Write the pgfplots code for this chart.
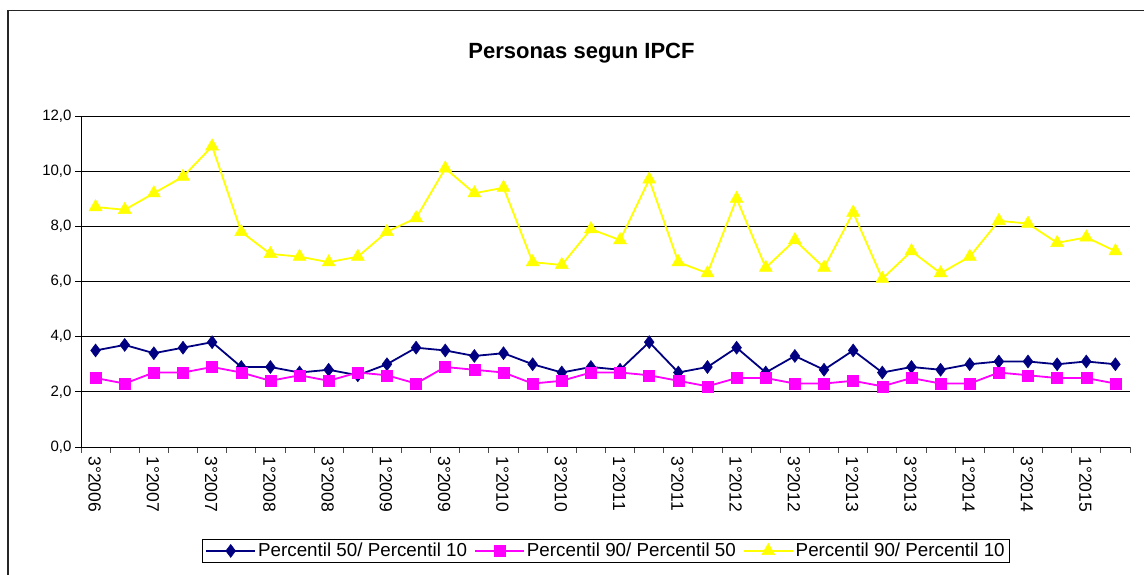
\documentclass[border=0pt]{standalone}
\usepackage{fontspec}
\setmainfont{Liberation Sans}
\usepackage{pgfplots}
\pgfplotsset{compat=1.18}
\definecolor{navyc}{RGB}{0,0,128}
\definecolor{magc}{RGB}{255,0,255}
\definecolor{yelc}{RGB}{255,255,0}
\begin{document}
\begin{tikzpicture}
\path[use as bounding box] (0pt,0pt) rectangle (1144pt,575pt);
\fill[white] (0pt,0pt) rectangle (1144pt,575pt);
\draw[line width=1.6pt,color=black!85] (8pt,0pt) -- (8pt,564.5pt) -- (1144pt,564.5pt);
\node[font=\fontsize{22}{26}\selectfont\bfseries] at (581.5pt,522pt) {Personas segun IPCF};
\begin{axis}[
  at={(81pt,128pt)}, anchor=south west,
  scale only axis, width=1049pt, height=331pt,
  xmin=-0.5, xmax=35.5, ymin=0, ymax=12,
  axis x line=bottom, axis y line=left,
  axis line style={-, line width=0.9pt},
  xtick={0,2,...,34},
  xticklabels={3°2006,1°2007,3°2007,1°2008,3°2008,1°2009,3°2009,1°2010,3°2010,1°2011,3°2011,1°2012,3°2012,1°2013,3°2013,1°2014,3°2014,1°2015},
  major x tick style={draw=none},
  minor xtick={-0.5,0.5,...,35.5},
  minor x tick style={line width=0.9pt, black!70},
  minor tick length=6pt,
  xticklabel style={rotate=-90, anchor=west, font=\fontsize{17.5}{20}\selectfont, yshift=-1pt},
  ytick={0,2,...,12},
  major y tick style={line width=0.9pt, black},
  major tick length=6pt,
  tick align=outside,
  ymajorgrids, grid style={line width=0.9pt, black},
  yticklabel style={font=\fontsize{15}{18}\selectfont},
  /pgf/number format/.cd, fixed, fixed zerofill, precision=1, use comma, assume math mode=true,
  /pgfplots/.cd,
  legend columns=3,
  legend style={at={(0.5005,-0.314)}, anchor=center, draw=black, line width=0.8pt,
    font=\fontsize{18.8}{21}\selectfont, inner ysep=2pt, inner xsep=3pt,
    /tikz/every even column/.append style={column sep=5pt}},
  legend image code/.code={\draw[mark repeat=2,mark phase=2] plot coordinates {(0pt,0pt) (24.5pt,0pt) (49pt,0pt)};},
  clip=false,
]
\addplot[navyc, line width=1.8pt, mark=diamond*, mark size=6.5pt, mark options={fill=navyc, draw=navyc, line width=0.5pt}] coordinates {
(0,3.5)(1,3.7)(2,3.4)(3,3.6)(4,3.8)(5,2.9)(6,2.9)(7,2.7)(8,2.8)(9,2.6)
(10,3.0)(11,3.6)(12,3.5)(13,3.3)(14,3.4)(15,3.0)(16,2.7)(17,2.9)(18,2.8)(19,3.8)
(20,2.7)(21,2.9)(22,3.6)(23,2.7)(24,3.3)(25,2.8)(26,3.5)(27,2.7)(28,2.9)(29,2.8)
(30,3.0)(31,3.1)(32,3.1)(33,3.0)(34,3.1)(35,3.0)};
\addlegendentry{Percentil 50/ Percentil 10}
\addplot[magc, line width=1.8pt, mark=square*, mark size=5.5pt, mark options={fill=magc, draw=magc, line width=0.5pt}] coordinates {
(0,2.5)(1,2.3)(2,2.7)(3,2.7)(4,2.9)(5,2.7)(6,2.4)(7,2.6)(8,2.4)(9,2.7)
(10,2.6)(11,2.3)(12,2.9)(13,2.8)(14,2.7)(15,2.3)(16,2.4)(17,2.7)(18,2.7)(19,2.6)
(20,2.4)(21,2.2)(22,2.5)(23,2.5)(24,2.3)(25,2.3)(26,2.4)(27,2.2)(28,2.5)(29,2.3)
(30,2.3)(31,2.7)(32,2.6)(33,2.5)(34,2.5)(35,2.3)};
\addlegendentry{Percentil 90/ Percentil 50}
\addplot[yelc, line width=1.8pt, mark=triangle*, mark size=7.5pt, mark options={fill=yelc, draw=yelc, line width=0.5pt}] coordinates {
(0,8.7)(1,8.6)(2,9.2)(3,9.8)(4,10.9)(5,7.8)(6,7.0)(7,6.9)(8,6.7)(9,6.9)
(10,7.8)(11,8.3)(12,10.1)(13,9.2)(14,9.4)(15,6.7)(16,6.6)(17,7.9)(18,7.5)(19,9.7)
(20,6.7)(21,6.3)(22,9.0)(23,6.5)(24,7.5)(25,6.5)(26,8.5)(27,6.1)(28,7.1)(29,6.3)
(30,6.9)(31,8.2)(32,8.1)(33,7.4)(34,7.6)(35,7.1)};
\addlegendentry{Percentil 90/ Percentil 10}
\end{axis}
\end{tikzpicture}
\end{document}
